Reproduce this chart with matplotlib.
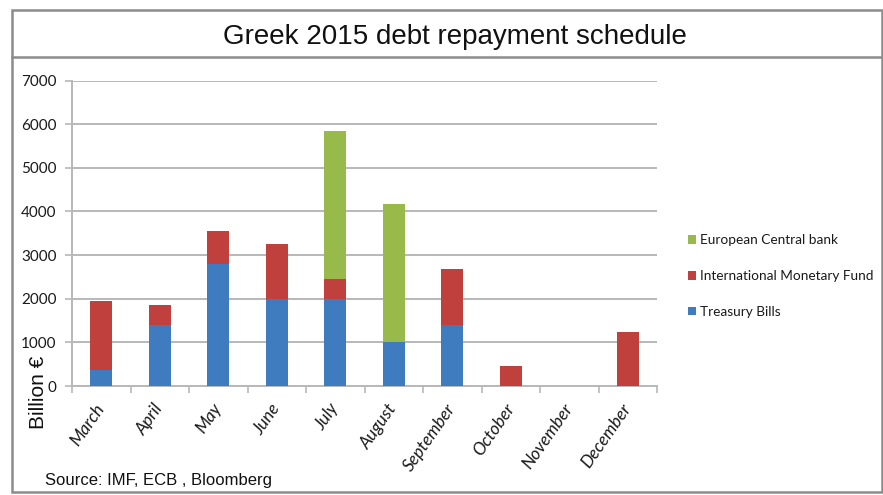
import matplotlib
matplotlib.use("Agg")
import matplotlib.pyplot as plt
import matplotlib.patches as mpatches
import numpy as np

months = ["March", "April", "May", "June", "July", "August",
          "September", "October", "November", "December"]
treasury_bills = [360, 1400, 2800, 2000, 2000, 1000, 1400, 0, 0, 0]
imf = [1580, 460, 750, 1250, 450, 0, 1290, 460, 0, 1230]
ecb = [0, 0, 0, 0, 3400, 3170, 0, 0, 0, 0]
yticks = [0, 1000, 2000, 3000, 4000, 5000, 6000, 7000]

c_tb = "#3F7BBF"
c_imf = "#C0403E"
c_ecb = "#97BA4B"
grid_c = "#B8B8B8"

W, H = 883, 495
fig = plt.figure(figsize=(W / 100, H / 100), dpi=100)

def fx(px):
    return px / W

def fy(py):
    return 1 - py / H

# outer frame and title box
frame = mpatches.Rectangle((fx(12), fy(492)), fx(882) - fx(12), fy(10) - fy(492),
                           transform=fig.transFigure, fill=False,
                           edgecolor="#8C8C8C", lw=1.8, zorder=0)
fig.patches.append(frame)
fig.add_artist(plt.Line2D([fx(12), fx(882)], [fy(57), fy(57)],
                          transform=fig.transFigure, color="#8C8C8C", lw=1.8))

fig.text(fx(455), fy(37), "Greek 2015 debt repayment schedule",
         ha="center", va="center", fontsize=20, family="Liberation Sans",
         color="#111111")

ax = fig.add_axes([fx(72), fy(386), fx(657) - fx(72), fy(80.5) - fy(386)])
x = np.arange(len(months))
w = 0.38
tb = np.array(treasury_bills)
im = np.array(imf)
ec = np.array(ecb)
b1 = ax.bar(x, tb, w, color=c_tb, zorder=3, label="Treasury Bills")
b2 = ax.bar(x, im, w, bottom=tb, color=c_imf, zorder=3,
            label="International Monetary Fund")
b3 = ax.bar(x, ec, w, bottom=tb + im, color=c_ecb, zorder=3,
            label="European Central bank")

ax.set_xlim(-0.5, len(months) - 0.5)
ax.set_ylim(0, 7000)
ax.set_yticks(yticks)
ax.set_yticklabels([str(v) for v in yticks], family="Lato", fontsize=11,
                   color="#1A1A1A")
ax.yaxis.grid(True, color=grid_c, lw=1.4, zorder=0)
ax.set_axisbelow(True)

for s in ["top", "right"]:
    ax.spines[s].set_visible(False)
for s in ["left", "bottom"]:
    ax.spines[s].set_color(grid_c)
    ax.spines[s].set_linewidth(1.4)

ax.tick_params(axis="y", length=5, width=1.2, color=grid_c, pad=6)
ax.set_xticks(x)
ax.set_xticklabels(months, rotation=55, ha="right", va="center",
                   rotation_mode="anchor",
                   family="Lato", style="italic", fontsize=12.5, color="#1A1A1A")
ax.tick_params(axis="x", which="major", length=0, pad=14)
ax.set_xticks(np.arange(-0.5, len(months)), minor=True)
ax.tick_params(axis="x", which="minor", length=5, width=1.2, color=grid_c)

fig.text(fx(39), fy(392), "Billion €", rotation=90, ha="center", va="center",
         fontsize=15, family="Liberation Sans", color="#111111")

fig.text(fx(45), fy(481), "Source: IMF, ECB , Bloomberg", ha="left",
         va="center", fontsize=12, family="Liberation Sans", color="#111111")

leg = ax.legend(handles=[b3, b2, b1], loc="center left",
                bbox_to_anchor=(fx(676), fy(276)), bbox_transform=fig.transFigure,
                frameon=False, prop={"family": "Lato", "size": 9.8},
                handlelength=0.6, handleheight=0.6, handletextpad=0.3,
                labelspacing=1.75)
for t in leg.get_texts():
    t.set_color("#1A1A1A")

fig.savefig("out.png", dpi=100)
